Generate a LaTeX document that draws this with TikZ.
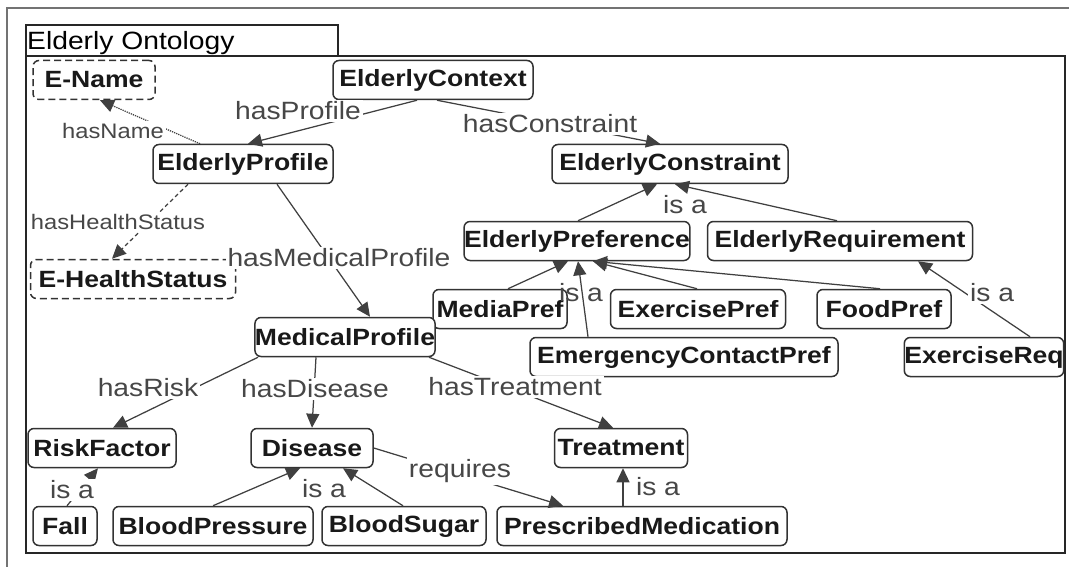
\documentclass[tikz,border=0pt]{standalone}
\usepackage{fontspec}
\setmainfont{Liberation Sans}[FakeStretch=1.13]
\usetikzlibrary{arrows.meta}

\tikzset{
  cls/.style={draw=black!80, line width=1.5pt, rounded corners=6pt, fill=white,
    minimum height=39pt, inner sep=0pt,
    font=\fontsize{23.5}{26}\selectfont\bfseries, text=black!90},
  lit/.style={cls, dash pattern=on 7pt off 4pt},
  rel/.style={draw=black!75, line width=1.25pt, -{Triangle[length=14pt,width=13pt]}},
  lbl/.style={fill=white, inner sep=2pt, font=\fontsize{25}{28}\selectfont, text=black!72},
  slbl/.style={lbl, font=\fontsize{21}{24}\selectfont},
}

\begin{document}
\begin{tikzpicture}[x=1pt, y=-1pt]
\useasboundingbox (0,0) rectangle (1069,567);

% outer page frame and the ontology package
\draw[black!55, line width=1.2pt] (7,8) rectangle (1100,600);
\draw[black!85, line width=1.6pt] (26,25) rectangle (338,56);
\draw[black!85, line width=2pt] (26,56) rectangle (1065,553);
\node[anchor=base west, inner sep=0pt, font=\fontsize{25}{28}\selectfont, text=black]
  (title) at (27,50) {Elderly Ontology};

% classes
\node[lit, minimum width=122pt] (ename) at (94,80)  {E-Name};
\node[cls, minimum width=200pt] (ctx)   at (433,80) {ElderlyContext};
\node[cls, minimum width=180pt] (prof)  at (243,164) {ElderlyProfile};
\node[cls, minimum width=236pt] (cons)  at (670,164) {ElderlyConstraint};
\node[cls, minimum width=221pt] (pref)  at (577,241) {ElderlyPreference};
\node[cls, minimum width=265pt] (req)   at (840,241) {ElderlyRequirement};
\node[lit, minimum width=205pt] (ehs)   at (133,279) {E-HealthStatus};
\node[cls, minimum width=134pt] (media) at (500,309) {MediaPref};
\node[cls, minimum width=175pt] (exer)  at (698,309) {ExercisePref};
\node[cls, minimum width=134pt] (food)  at (884,309) {FoodPref};
\node[cls, minimum width=308pt] (emer)  at (684,357) {EmergencyContactPref};
\node[cls, minimum width=156pt] (exreq) at (984,357) {ExerciseReq};
\node[cls, minimum width=176pt] (med)   at (345,337) {MedicalProfile};
\node[cls, minimum width=148pt] (risk)  at (102,448) {RiskFactor};
\node[cls, minimum width=122pt] (dis)   at (312,448) {Disease};
\node[cls, minimum width=133pt] (treat) at (621,448) {Treatment};
\node[cls, minimum width=64pt]  (fall)  at (65,526)  {Fall};
\node[cls, minimum width=200pt] (bp)    at (213,526) {BloodPressure};
\node[cls, minimum width=164pt] (bs)    at (404,526) {BloodSugar};
\node[cls, minimum width=290pt] (presc) at (642,526) {PrescribedMedication};

% relations
\draw[rel] ([xshift=-16pt]ctx.south) -- ([xshift=5pt]prof.north);
\draw[rel] ([xshift=4pt]ctx.south) -- ([xshift=-10pt]cons.north);
\draw[rel, densely dotted] ([xshift=-43pt]prof.north) -- ([xshift=6pt]ename.south);
\draw[rel, dash pattern=on 4pt off 3pt] ([xshift=-55pt]prof.south) -- ([xshift=-21pt]ehs.north);
\draw[rel] ([xshift=34pt]prof.south) -- ([xshift=25pt]med.north);
\draw[rel] ([xshift=-87pt]med.south) -- ([xshift=11pt]risk.north);
\draw[rel] ([xshift=-29pt]med.south) -- (dis.north);
\draw[rel] ([xshift=84pt]med.south) -- ([xshift=-8pt]treat.north);
\draw[rel] (dis.east) -- ([xshift=-79pt]presc.north);
\draw[rel] ([xshift=-19pt]presc.north) -- ([xshift=2pt]treat.south);
\draw[rel] (bp.north) -- ([xshift=-12pt]dis.south);
\draw[rel] ([xshift=-1pt]bs.north) -- ([xshift=31pt]dis.south);
\draw[rel] ([xshift=2pt]fall.north) -- ([xshift=-4pt]risk.south);
\draw[rel] ([xshift=1pt]pref.north) -- ([xshift=-13pt]cons.south);
\draw[rel] ([xshift=-3pt]req.north) -- ([xshift=5pt]cons.south);
\draw[rel] ([xshift=8pt]media.north) -- ([xshift=-9pt]pref.south);
\draw[rel] ([xshift=-1pt]exer.north) -- ([xshift=16pt]pref.south);
\draw[rel] ([xshift=-4pt]food.north) -- ([xshift=16pt]pref.south);
\draw[rel] ([xshift=-96pt]emer.north) -- ([xshift=1pt]pref.south);
\draw[rel] ([xshift=46pt]exreq.north) -- ([xshift=78pt]req.south);

% relation labels
\node[lbl]  (lprof)  at (298,111) {hasProfile};
\node[lbl]  (lcons)  at (550,124) {hasConstraint};
\node[slbl] (lname)  at (113,131) {hasName};
\node[slbl] (lhs)    at (118,222) {hasHealthStatus};
\node[lbl]  (lmed)   at (339,258) {hasMedicalProfile};
\node[lbl]  (lrisk)  at (148,388) {hasRisk};
\node[lbl]  (ldis)   at (315,389) {hasDisease};
\node[lbl]  (ltreat) at (515,387) {hasTreatment};
\node[lbl]  (lreq)   at (460,471) {requires};
\node[lbl]  (isa1)   at (658,487) {is a};
\node[lbl]  (isa2)   at (324,489) {is a};
\node[lbl]  (isa3)   at (72,490)  {is a};
\node[lbl]  (isa4)   at (685,205) {is a};
\node[lbl, fill=none] (isa5) at (581,293) {is a};
\node[lbl]  (isa6)   at (992,293) {is a};
\end{tikzpicture}
\end{document}
